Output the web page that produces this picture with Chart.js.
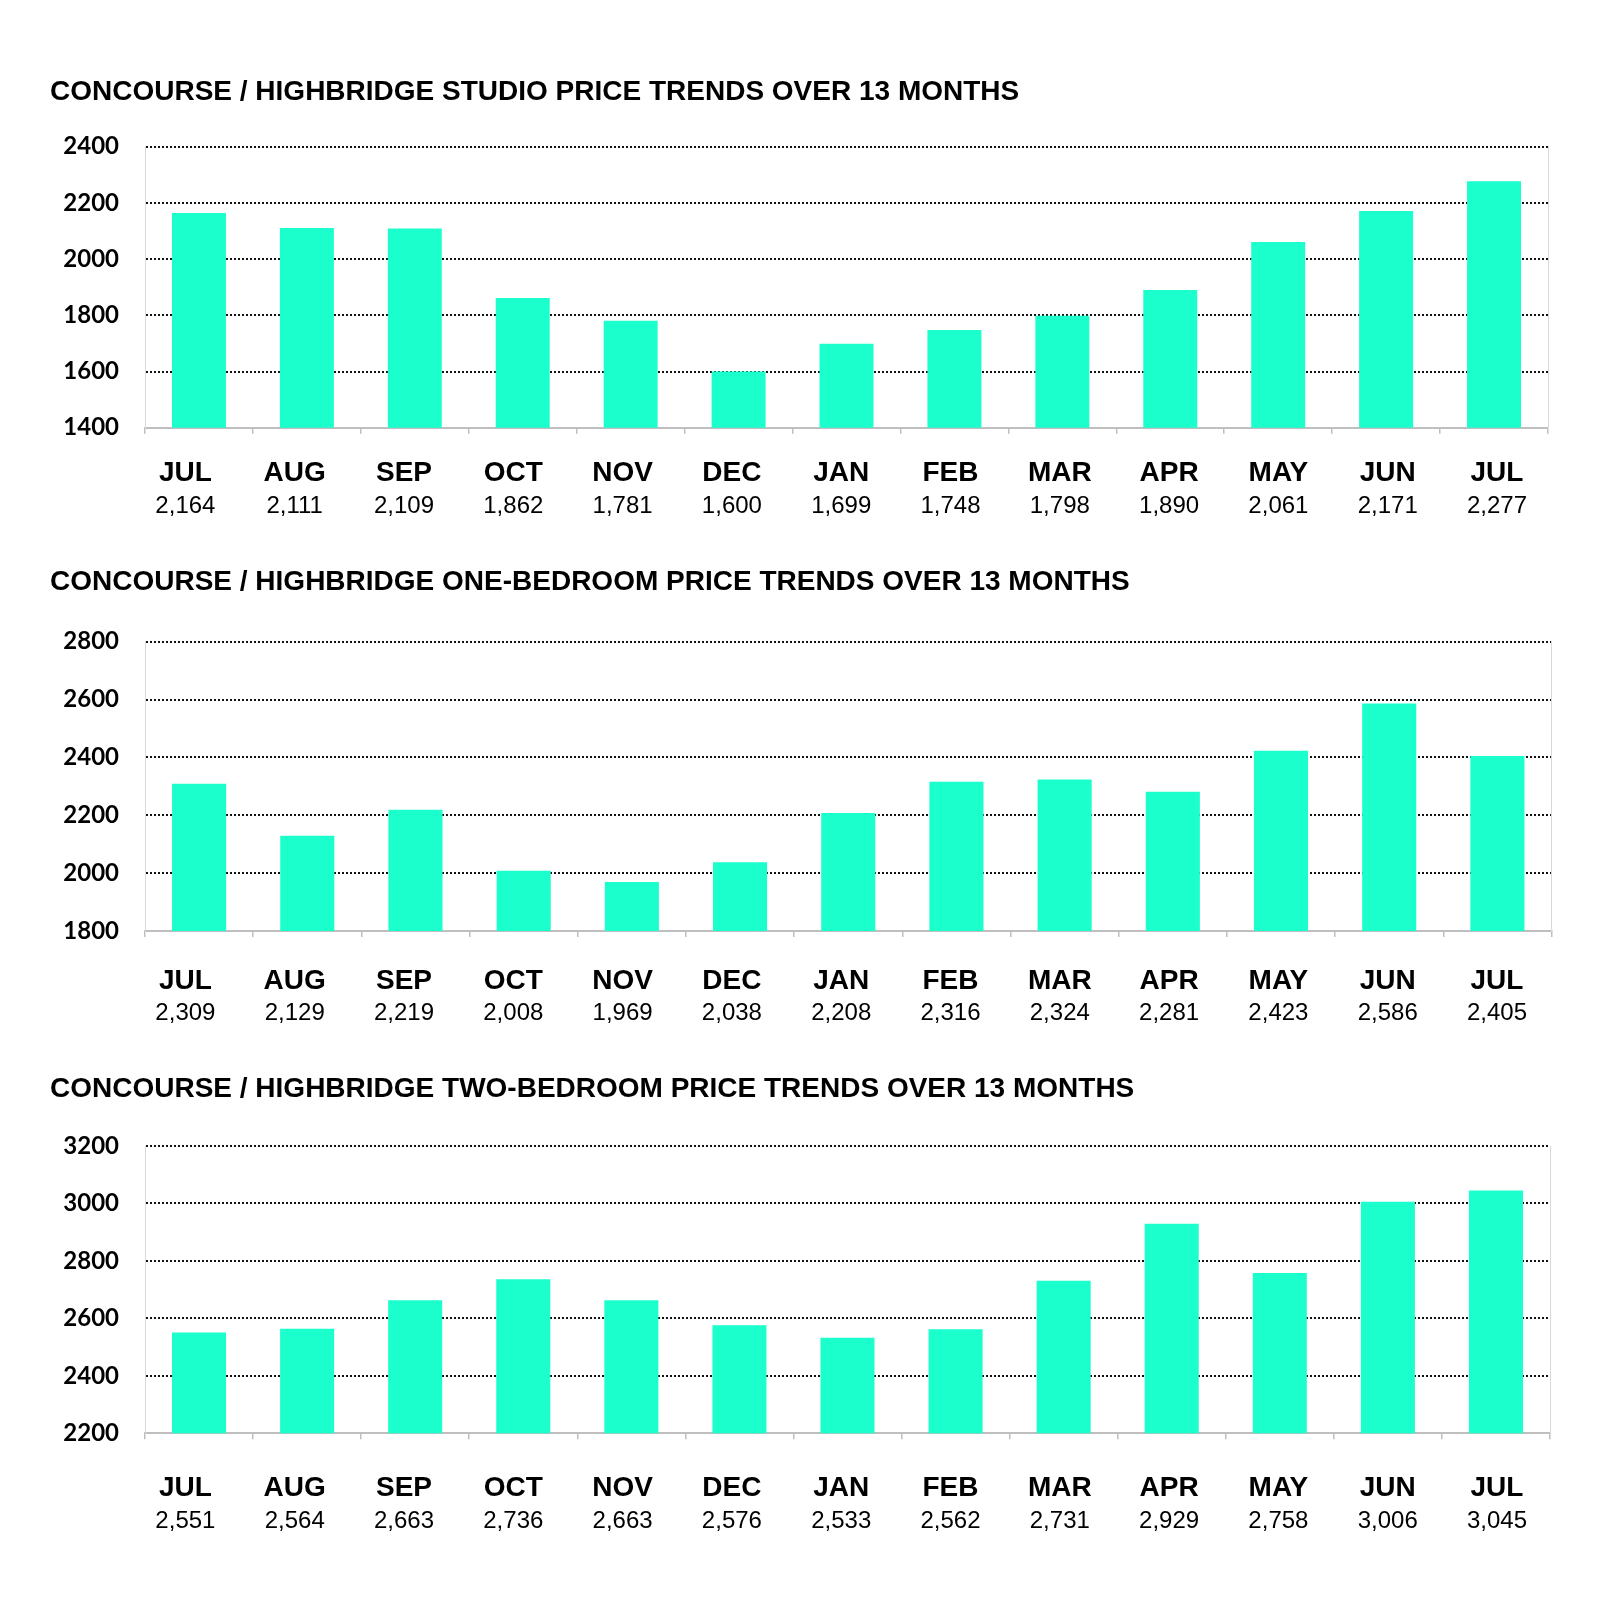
<!DOCTYPE html>
<html>
<head>
<meta charset="utf-8">
<script src="https://cdn.jsdelivr.net/npm/chart.js@4.4.1/dist/chart.umd.min.js"></script>
<style>
  html, body { margin: 0; padding: 0; background: #fff; }
  #page { position: relative; width: 1600px; height: 1615px; overflow: hidden; }
  canvas { position: absolute; left: 50px; }
</style>
</head>
<body>
<div id="page">
  <canvas id="chartStudio"></canvas>
  <canvas id="chartOneBed"></canvas>
  <canvas id="chartTwoBed"></canvas>
</div>
<script>
const months = ['JUL', 'AUG', 'SEP', 'OCT', 'NOV', 'DEC', 'JAN', 'FEB', 'MAR', 'APR', 'MAY', 'JUN', 'JUL'];
const studioPrices = [2164, 2111, 2109, 1862, 1781, 1600, 1699, 1748, 1798, 1890, 2061, 2171, 2277];
const oneBedPrices = [2309, 2129, 2219, 2008, 1969, 2038, 2208, 2316, 2324, 2281, 2423, 2586, 2405];
const twoBedPrices = [2551, 2564, 2663, 2736, 2663, 2576, 2533, 2562, 2731, 2929, 2758, 3006, 3045];
const titles = [
  'CONCOURSE / HIGHBRIDGE STUDIO PRICE TRENDS OVER 13 MONTHS',
  'CONCOURSE / HIGHBRIDGE ONE-BEDROOM PRICE TRENDS OVER 13 MONTHS',
  'CONCOURSE / HIGHBRIDGE TWO-BEDROOM PRICE TRENDS OVER 13 MONTHS'
];
const yMins = [1400, 1800, 2200];
const yMaxs = [2400, 2800, 3200];
const yStep = 200;

// where things sit on the page (px)
const frames = [
  { title: 91.2, top: 146.7, bottom: 427.7, month: 471.7, value: 505.8, right: 1548 },
  { title: 581.7, top: 641.7, bottom: 931, month: 979.3, value: 1012.8, right: 1551.5 },
  { title: 1088.3, top: 1146, bottom: 1433.3, month: 1486.7, value: 1520.8, right: 1550 }
];
const plotLeft = 145;
// the month / value captions sit on their own spacing, not under the bar centres
const captionFirst = 185.4;
const captionLast = 1497;

Chart.defaults.font.family = "'Liberation Sans', Arial, sans-serif";
Chart.defaults.color = '#000';

function captionAxis(f, weight, texts, font, padding, height) {
  const width = f.right - plotLeft;
  const unit = (captionLast - captionFirst) / (texts.length - 1);
  const min = -(captionFirst - plotLeft) / unit;
  return {
    type: 'linear',
    position: 'bottom',
    weight: weight,
    offset: false,
    min: min,
    max: min + width / unit,
    grid: { display: false, drawTicks: false, offset: false },
    border: { display: false },
    afterBuildTicks: s => { s.ticks = texts.map((t, i) => ({ value: i })); },
    ticks: {
      color: '#000',
      font: font,
      padding: padding,
      maxRotation: 0,
      autoSkip: false,
      callback: v => texts[v]
    },
    afterFit: s => { s.height = height; }
  };
}

function makeChart(id, title, prices, yMin, yMax, f) {
  const canvas = document.getElementById(id);
  const canvasTop = Math.round(f.title - 90);
  const height = Math.round(f.value + 40) - canvasTop;
  canvas.width = 1550;
  canvas.height = height;
  canvas.style.top = canvasTop + 'px';

  const tickLen = 6;
  const monthTop = f.bottom + tickLen;
  const valueTop = f.value + 1.5 - 15;
  const padBottom = height - (valueTop - canvasTop) - 30;

  return new Chart(canvas.getContext('2d'), {
    type: 'bar',
    data: {
      labels: months,
      datasets: [{
        data: prices,
        backgroundColor: '#1affcc',
        borderWidth: 0,
        barPercentage: 0.5,
        categoryPercentage: 1
      }]
    },
    options: {
      responsive: false,
      animation: false,
      devicePixelRatio: 1,
      layout: { padding: { left: 0, top: 0, right: 1550 - (f.right - 50), bottom: padBottom } },
      plugins: {
        legend: { display: false },
        tooltip: { enabled: false },
        title: {
          display: true,
          text: title,
          align: 'start',
          color: '#000',
          font: { size: 28, weight: 'bold' },
          padding: { top: f.title + 1 - canvasTop - 16.8, bottom: f.top - f.title - 1 - 16.8 }
        }
      },
      scales: {
        x: {
          position: 'bottom',
          weight: 0,
          grid: { offset: true, drawOnChartArea: false, drawTicks: true, tickLength: tickLen, color: '#bfbfbf', lineWidth: 1.5 },
          border: { color: '#bfbfbf', width: 2 },
          ticks: { display: false },
          afterFit: s => { s.height = tickLen; }
        },
        xm: captionAxis(f, 1, months, { size: 28, weight: 'bold' },
          f.month + 2 - monthTop - 16.8, valueTop - monthTop),
        xv: captionAxis(f, 2, prices.map(v => v.toLocaleString('en-US')), { size: 24 }, 0, 30),
        y: {
          min: yMin,
          max: yMax,
          ticks: {
            stepSize: yStep,
            padding: 26,
            color: '#000',
            font: { family: 'Lato', size: 24, weight: 'bold' },
            callback: v => String(v)
          },
          grid: {
            drawTicks: false,
            lineWidth: 2,
            color: ctx => (ctx.tick && ctx.tick.value === yMin) ? 'rgba(0,0,0,0)' : '#111'
          },
          border: { color: '#d9d9d9', width: 1, dash: [2, 2] },
          afterFit: s => { s.width = 95; }
        },
        yr: {
          type: 'linear',
          position: 'right',
          grid: { drawOnChartArea: false, drawTicks: false },
          ticks: { display: false },
          border: { color: '#d9d9d9', width: 1 },
          afterFit: s => { s.width = 0; }
        }
      }
    }
  });
}

makeChart('chartStudio', titles[0], studioPrices, yMins[0], yMaxs[0], frames[0]);
makeChart('chartOneBed', titles[1], oneBedPrices, yMins[1], yMaxs[1], frames[1]);
makeChart('chartTwoBed', titles[2], twoBedPrices, yMins[2], yMaxs[2], frames[2]);
</script>
</body>
</html>
